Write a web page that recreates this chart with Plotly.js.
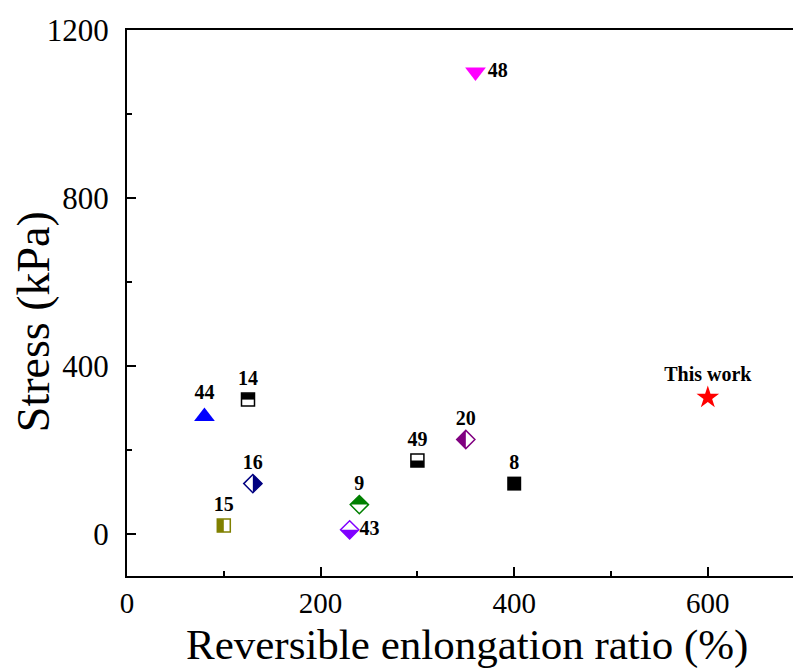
<!DOCTYPE html>
<html>
<head>
<meta charset="utf-8">
<script src="https://cdn.plot.ly/plotly-3.0.1.min.js"></script>
<style>html,body{margin:0;padding:0;background:#fff;}</style>
</head>
<body>
<div id="chart" style="width:793px;height:669px;"></div>
<script>
// ---- data ----
var refLabels = ['44', '14', '16', '15', '9', '43', '49', '20', '8', '48', 'This work'];
var elongation = [80, 125, 130, 100, 240, 230, 300, 350, 400, 360, 600];   // Reversible enlongation ratio (%)
var stress     = [280, 320, 120, 20, 70, 10, 175, 225, 120, 1100, 325];    // Stress (kPa)
var xTitle = 'Reversible enlongation ratio (%)';
var yTitle = 'Stress (kPa)';

// ---- styles ----
var colors  = ['#0000ff', '#000000', '#000080', '#808000', '#008000', '#8000ff', '#000000', '#800080', '#000000', '#ff00ff', '#ff0000'];
var symbols = ['triangle-up', 'square-open', 'diamond-open', 'square-open', 'diamond-open', 'diamond-open', 'square-open', 'diamond-open', 'square', 'triangle-down', 'star'];
var halves  = ['', 'top', 'right', 'left', 'top', 'bottom', 'bottom', 'left', '', '', ''];
var sizes   = [18, 13, 14, 13, 14, 14, 13, 14, 14, 18, 17];
var textPos = ['top center', 'top center', 'top center', 'top center', 'top center', 'middle right', 'top center', 'top center', 'top center', 'middle right', 'top center'];

var traces = [];
var shapes = [];
for (var i = 0; i < refLabels.length; i++) {
  traces.push({
    type: 'scatter', mode: 'markers+text',
    x: [elongation[i]], y: [stress[i]],
    text: [refLabels[i]], textposition: textPos[i],
    textfont: {family: 'Liberation Serif', size: 20, color: '#000', weight: 'bold'},
    marker: {symbol: symbols[i], size: sizes[i], color: colors[i],
             line: {color: colors[i], width: symbols[i].indexOf('open') >= 0 ? 1.5 : 0}},
    showlegend: false, cliponaxis: false, hoverinfo: 'x+y'
  });
  var h = halves[i];
  if (!h) continue;
  var r = sizes[i] / 2;
  var base = {type: 'path', xref: 'x', yref: 'y', xsizemode: 'pixel', ysizemode: 'pixel',
              xanchor: elongation[i], yanchor: stress[i], fillcolor: colors[i],
              line: {width: 0}, layer: 'above'};
  var p;
  if (symbols[i].indexOf('square') === 0) {
    if (h === 'top') p = 'M' + (-r) + ',0 L' + r + ',0 L' + r + ',' + r + ' L' + (-r) + ',' + r + ' Z';
    else if (h === 'bottom') p = 'M' + (-r) + ',0 L' + r + ',0 L' + r + ',' + (-r) + ' L' + (-r) + ',' + (-r) + ' Z';
    else if (h === 'left') p = 'M' + (-r) + ',' + (-r) + ' L0,' + (-r) + ' L0,' + r + ' L' + (-r) + ',' + r + ' Z';
    else p = 'M0,' + (-r) + ' L' + r + ',' + (-r) + ' L' + r + ',' + r + ' L0,' + r + ' Z';
  } else {
    var d = 1.3 * r;
    if (h === 'top') p = 'M' + (-d) + ',0 L0,' + d + ' L' + d + ',0 Z';
    else if (h === 'bottom') p = 'M' + (-d) + ',0 L0,' + (-d) + ' L' + d + ',0 Z';
    else if (h === 'left') p = 'M0,' + d + ' L' + (-d) + ',0 L0,' + (-d) + ' Z';
    else p = 'M0,' + d + ' L' + d + ',0 L0,' + (-d) + ' Z';
  }
  base.path = p;
  shapes.push(base);
}

var layout = {
  width: 793, height: 669,
  margin: {l: 127, r: 0, t: 30, b: 93},
  paper_bgcolor: '#fff', plot_bgcolor: '#fff',
  font: {family: 'Liberation Serif', color: '#000'},
  showlegend: false,
  xaxis: {
    range: [0, 688], tick0: 0, dtick: 200,
    ticks: 'inside', ticklen: 9, tickwidth: 2, tickcolor: '#000',
    minor: {dtick: 100, ticks: 'inside', ticklen: 5, tickwidth: 2, tickcolor: '#000'},
    showline: true, linecolor: '#000', linewidth: 2, mirror: true,
    showgrid: false, zeroline: false,
    tickfont: {family: 'Liberation Serif', size: 29, color: '#000'},
    ticklabelstandoff: 0
  },
  yaxis: {
    range: [-100, 1200], tick0: 0, dtick: 400,
    ticks: 'inside', ticklen: 9, tickwidth: 2, tickcolor: '#000',
    minor: {dtick: 200, ticks: 'inside', ticklen: 5, tickwidth: 2, tickcolor: '#000'},
    showline: true, linecolor: '#000', linewidth: 2, mirror: false,
    showgrid: false, zeroline: false,
    tickfont: {family: 'Liberation Serif', size: 31, color: '#000'},
    ticklabelstandoff: 10
  },
  annotations: [{
    text: yTitle, xref: 'paper', yref: 'paper', x: -0.141, y: 0.465,
    xanchor: 'center', yanchor: 'middle', textangle: -90, showarrow: false,
    font: {family: 'Liberation Serif', size: 46, color: '#000'}
  }, {
    text: xTitle, xref: 'paper', yref: 'paper', x: 0.51, y: -0.172,
    xanchor: 'center', yanchor: 'bottom', showarrow: false, borderpad: 0,
    font: {family: 'Liberation Serif', size: 43, color: '#000'}
  }],
  shapes: shapes
};

Plotly.newPlot('chart', traces, layout, {displayModeBar: false, staticPlot: true});
</script>
</body>
</html>
